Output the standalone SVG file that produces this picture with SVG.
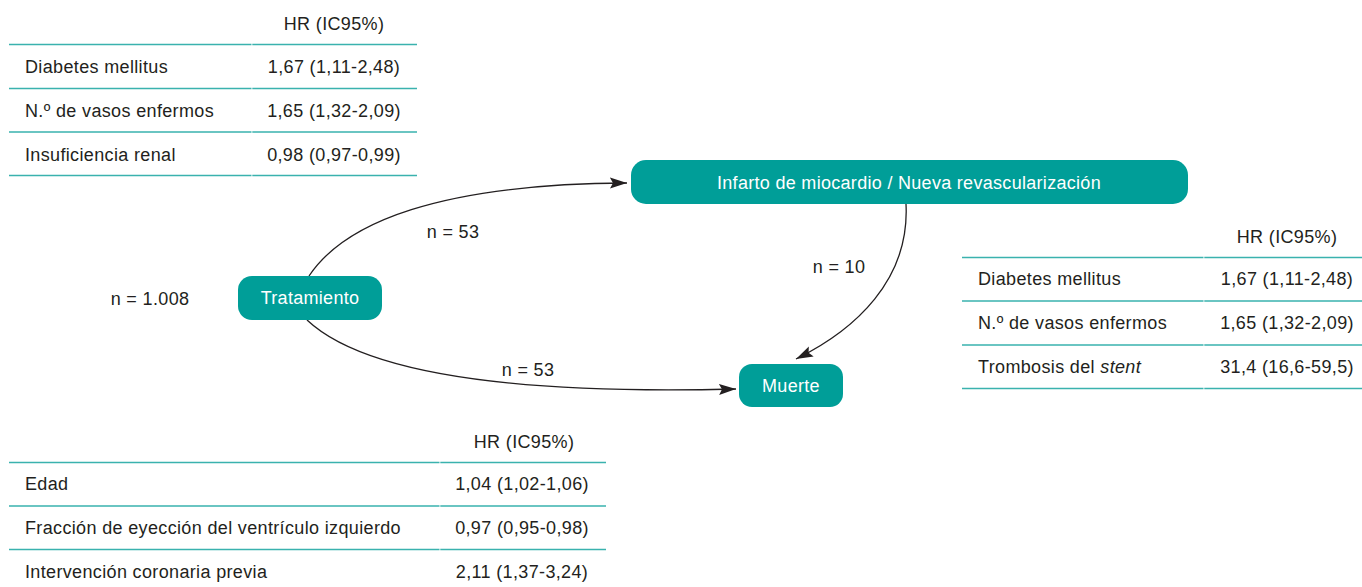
<svg xmlns="http://www.w3.org/2000/svg" width="1362" height="587" viewBox="0 0 1362 587">
<style>
text{font-family:"Liberation Sans",Arial,sans-serif;font-size:18px;fill:#231f20;letter-spacing:0.35px}
.c{text-anchor:middle}
.rule{stroke:#3ab2ae;stroke-width:1.4;fill:none}
.node rect{fill:#009e98}
.node text{fill:#ffffff;text-anchor:middle;letter-spacing:0.3px}
.edge{stroke:#231f20;stroke-width:1.3;fill:none;marker-end:url(#ah)}
</style>
<defs>
<marker id="ah" markerWidth="18" markerHeight="12" refX="17" refY="6" orient="auto" markerUnits="userSpaceOnUse">
<path d="M0,0.5 L17,6 L0,11.5 L3,6 Z" fill="#231f20"/>
</marker>
</defs>
<rect width="1362" height="587" fill="#ffffff"/>

<g id="table-top">
<text x="334" y="30" class="c">HR (IC95%)</text>
<path class="rule" d="M9,44.5H251.5M252.3,44.5H417M9,88.5H251.5M252.3,88.5H417M9,132H251.5M252.3,132H417M9,175.5H251.5M252.3,175.5H417"/>
<text x="25" y="73">Diabetes mellitus</text>
<text x="334" y="73" class="c">1,67 (1,11-2,48)</text>
<text x="25" y="117">N.º de vasos enfermos</text>
<text x="334" y="117" class="c">1,65 (1,32-2,09)</text>
<text x="25" y="161">Insuficiencia renal</text>
<text x="334" y="161" class="c">0,98 (0,97-0,99)</text>
</g>

<g id="table-right">
<text x="1287" y="243" class="c">HR (IC95%)</text>
<path class="rule" d="M962,257.5H1203.5M1204.3,257.5H1362M962,301H1203.5M1204.3,301H1362M962,345H1203.5M1204.3,345H1362M962,388.5H1203.5M1204.3,388.5H1362"/>
<text x="978" y="285">Diabetes mellitus</text>
<text x="1287" y="285" class="c">1,67 (1,11-2,48)</text>
<text x="978" y="329">N.º de vasos enfermos</text>
<text x="1287" y="329" class="c">1,65 (1,32-2,09)</text>
<text x="978" y="373">Trombosis del <tspan font-style="italic">stent</tspan></text>
<text x="1287" y="373" class="c">31,4 (16,6-59,5)</text>
</g>

<g id="table-bottom">
<text x="524" y="448" class="c">HR (IC95%)</text>
<path class="rule" d="M9,462.5H439.5M440.3,462.5H606M9,506H439.5M440.3,506H606M9,549.5H439.5M440.3,549.5H606"/>
<text x="25" y="490">Edad</text>
<text x="522" y="490" class="c">1,04 (1,02-1,06)</text>
<text x="25" y="534">Fracción de eyección del ventrículo izquierdo</text>
<text x="522" y="534" class="c">0,97 (0,95-0,98)</text>
<text x="25" y="578">Intervención coronaria previa</text>
<text x="522" y="578" class="c">2,11 (1,37-3,24)</text>
</g>

<g id="connectors">
<path class="edge" d="M309,276 C345,222 440,184 627,183"/>
<path class="edge" d="M307,320 C360,370 500,395 736,389"/>
<path class="edge" d="M906,204 C910,280 855,330 796,359"/>
<text x="453" y="238" class="c">n = 53</text>
<text x="528" y="376" class="c">n = 53</text>
<text x="839" y="273" class="c">n = 10</text>
<text x="150" y="305" class="c">n = 1.008</text>
</g>

<g id="node-tratamiento" class="node">
<rect x="238" y="276" width="144" height="44" rx="14"/>
<text x="310" y="304">Tratamiento</text>
</g>

<g id="node-infarto" class="node">
<rect x="631" y="160" width="557" height="44" rx="15"/>
<text x="909" y="189">Infarto de miocardio / Nueva revascularización</text>
</g>

<g id="node-muerte" class="node">
<rect x="739" y="364" width="104" height="43" rx="13"/>
<text x="791" y="392">Muerte</text>
</g>
</svg>
